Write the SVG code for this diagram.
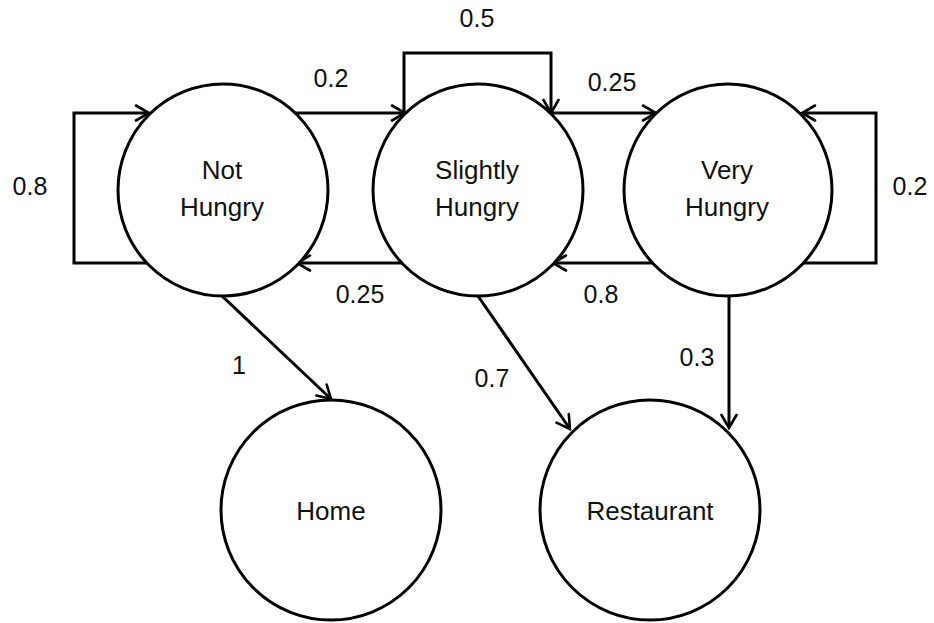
<svg xmlns="http://www.w3.org/2000/svg" width="934" height="623" viewBox="0 0 934 623">
<style>
  .node { fill: #ffffff; stroke: #000000; stroke-width: 3; }
  .edge { fill: none; stroke: #000000; stroke-width: 3; stroke-linejoin: miter; }
  .t { font-family: "Liberation Sans", Arial, sans-serif; font-size: 25px; fill: #111111; text-anchor: middle; }
  .n { font-family: "Liberation Sans", Arial, sans-serif; font-size: 26px; fill: #111111; text-anchor: middle; }
</style>
<defs>
  <marker id="arr" markerUnits="userSpaceOnUse" markerWidth="18" markerHeight="18" viewBox="0 0 18 18" refX="16" refY="9" orient="auto">
    <path d="M3,1.5 L16,9 L3,16.5" fill="none" stroke="#000000" stroke-width="2.6" stroke-linecap="round" stroke-linejoin="miter"/>
  </marker>
</defs>
<rect width="934" height="623" fill="#ffffff"/>

<g id="connectors">
  <path class="edge" d="M148,263 L74,263 L74,113 L149,113" marker-end="url(#arr)"/>
  <path class="edge" d="M294,113 L405,113" marker-end="url(#arr)"/>
  <path class="edge" d="M404,113 L404,53 L551,53 L551,113" marker-end="url(#arr)"/>
  <path class="edge" d="M551,113 L656,113" marker-end="url(#arr)"/>
  <path class="edge" d="M803,263 L876,263 L876,113 L802,113" marker-end="url(#arr)"/>
  <path class="edge" d="M653,263 L553,263" marker-end="url(#arr)"/>
  <path class="edge" d="M403,263 L297,263" marker-end="url(#arr)"/>
  <path class="edge" d="M222,296 L331,399" marker-end="url(#arr)"/>
  <path class="edge" d="M478,296 L570,429" marker-end="url(#arr)"/>
  <path class="edge" d="M729,296 L729,428" marker-end="url(#arr)"/>
  <text class="t" x="30" y="195">0.8</text>
  <text class="t" x="331" y="87">0.2</text>
  <text class="t" x="477" y="27">0.5</text>
  <text class="t" x="612" y="91">0.25</text>
  <text class="t" x="910" y="195">0.2</text>
  <text class="t" x="360" y="303">0.25</text>
  <text class="t" x="601" y="303">0.8</text>
  <text class="t" x="239" y="374">1</text>
  <text class="t" x="492" y="387">0.7</text>
  <text class="t" x="697" y="366">0.3</text>
</g>

<g id="not-hungry">
  <ellipse class="node" cx="223" cy="190" rx="105" ry="106"/>
  <text class="n" x="222" y="179">Not</text>
  <text class="n" x="222" y="216">Hungry</text>
</g>
<g id="slightly-hungry">
  <ellipse class="node" cx="478" cy="190" rx="105" ry="106"/>
  <text class="n" x="477" y="179">Slightly</text>
  <text class="n" x="477" y="216">Hungry</text>
</g>
<g id="very-hungry">
  <ellipse class="node" cx="728" cy="190" rx="104" ry="106"/>
  <text class="n" x="727" y="179">Very</text>
  <text class="n" x="727" y="216">Hungry</text>
</g>
<g id="home">
  <ellipse class="node" cx="331" cy="510" rx="110" ry="110"/>
  <text class="n" x="331" y="520">Home</text>
</g>
<g id="restaurant">
  <ellipse class="node" cx="650" cy="510" rx="110" ry="110"/>
  <text class="n" x="650" y="520">Restaurant</text>
</g>
</svg>
